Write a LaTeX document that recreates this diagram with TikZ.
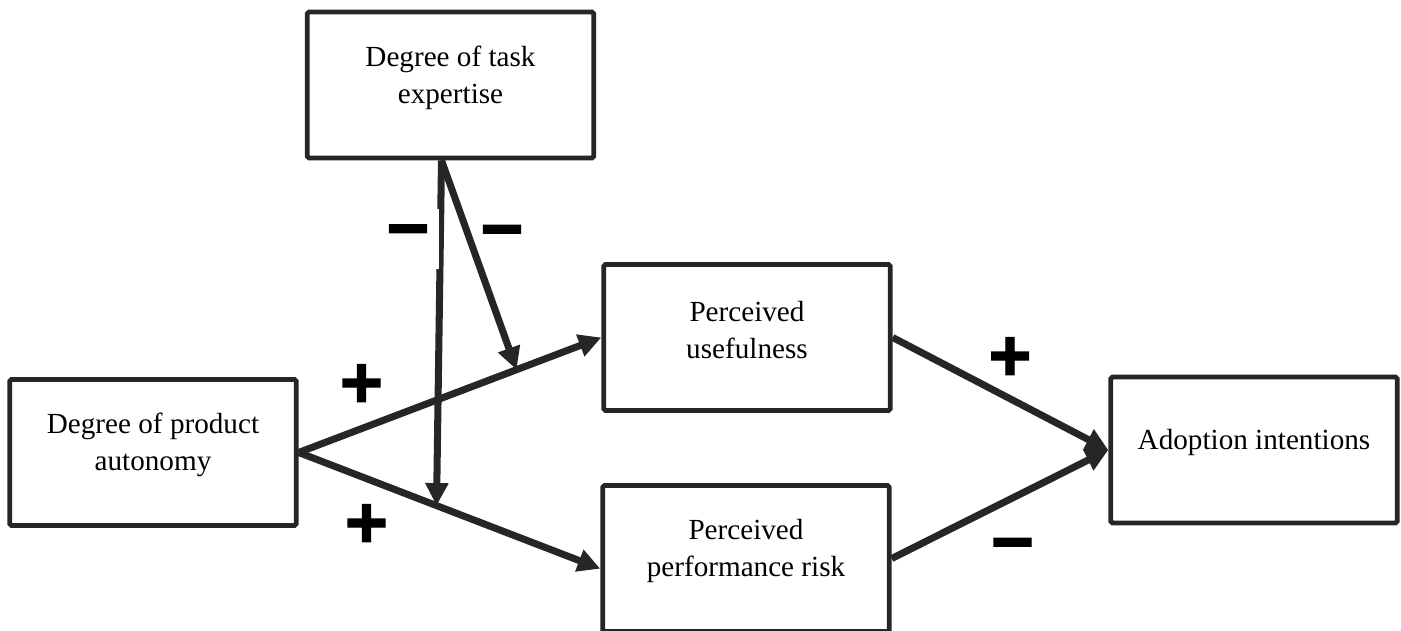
\documentclass[tikz,border=0pt]{standalone}
\usepackage{fontspec}
\setmainfont{Liberation Serif}
\newfontfamily\signfont{Liberation Sans Bold}[FakeBold=1.5]
\usetikzlibrary{calc}
\usetikzlibrary{arrows.meta}
\definecolor{linegray}{HTML}{262626}
\tikzset{box/.style={rectangle,draw=linegray,line width=2.8pt,rounded corners=1pt,minimum width=5.73cm,minimum height=2.92cm,fill=white}}
\tikzset{boxtext/.style={align=center,font=\fontsize{16.6}{21}\selectfont,yshift=0.15cm}}
\tikzset{link/.style={draw=linegray,line width=4pt,-{Triangle[length=0.45cm,width=0.44cm]}}}
\tikzset{sign/.style={font=\signfont\fontsize{42}{42}\selectfont,inner sep=0pt}}

\begin{document}
\begin{tikzpicture}
\useasboundingbox (0,0) rectangle (28.02,12.62);
\node[box, label={[boxtext]center:Degree of task\\expertise}] (task) at (9.01,10.92) {};
\node[box, label={[boxtext]center:Degree of product\\autonomy}] (product) at (3.06,3.57) {};
\node[box, label={[boxtext]center:Perceived\\usefulness}] (useful) at (14.94,5.87) {};
\node[box, label={[boxtext]center:Perceived\\performance risk}] (risk) at (14.92,1.45) {};
\node[box, label={[boxtext]center:Adoption intentions}] (adopt) at (25.08,3.62) {};

\draw[link] (product.east) -- coordinate[pos=0.72] (pu) (useful.west);
\draw[link] (product.east) -- coordinate[pos=0.457] (pr) (risk.184.6);
\draw[link] (useful.east) -- (adopt.west);
\draw[link] (risk.east) -- (adopt.west);

\coordinate (ts) at ($(task.south)+(-0.18,0)$);
\draw[link] (ts) -- (pu);
\draw[link] (ts) -- (pr);

\node[sign, fill=white, minimum width=1.24cm, minimum height=1.2cm] (m1) at (8.16,7.84) {−};
\node[sign] (m2) at (10.04,7.83) {−};
\node[sign] (p1) at (7.23,4.9) {+};
\node[sign] (p2) at (7.33,2.1) {+};
\node[sign] (p3) at (20.2,5.44) {+};
\node[sign] (m3) at (20.25,1.57) {−};

\end{tikzpicture}
\end{document}
